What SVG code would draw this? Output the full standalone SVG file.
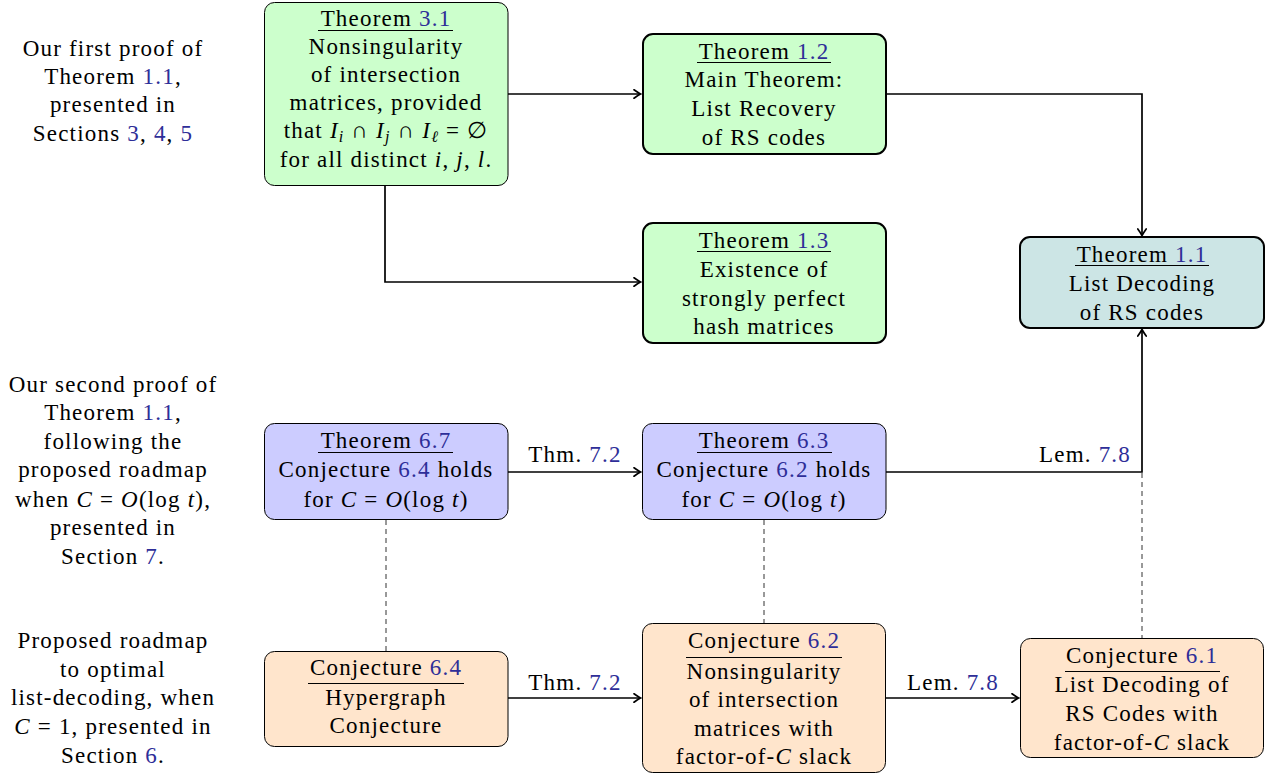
<svg xmlns="http://www.w3.org/2000/svg" width="1268" height="775" viewBox="0 0 1268 775">
<style>
text{font-family:"Liberation Serif","Times New Roman",serif;font-size:23px;letter-spacing:1.2px;fill:#000;text-anchor:middle}
.l{fill:#2e2e98}
.i{font-style:italic}
.box{stroke:#000;stroke-width:1}
.thick{stroke-width:2}
.g{fill:#ccffcc}
.b{fill:#ccccff}
.o{fill:#ffe5cc}
.t{fill:#cce5e5}
.ul{stroke:#000;stroke-width:1}
.c{fill:none;stroke:#000;stroke-width:1.7}
.d{fill:none;stroke:#333;stroke-width:1;stroke-dasharray:5 4}
</style>
<defs>
<marker id="ar" viewBox="-7 -5 9 10" refX="0" refY="0" markerWidth="9" markerHeight="10" markerUnits="userSpaceOnUse" orient="auto">
<path d="M-6,-4.2 Q-1.5,-1 0.5,0 Q-1.5,1 -6,4.2" fill="none" stroke="#000" stroke-width="1.7" stroke-linecap="round"/>
</marker>
</defs>

<g id="labels">
<text x="113" y="56">Our first proof of</text>
<text x="113" y="84">Theorem <tspan class="l">1.1</tspan>,</text>
<text x="113" y="112">presented in</text>
<text x="113" y="141">Sections <tspan class="l">3</tspan>, <tspan class="l">4</tspan>, <tspan class="l">5</tspan></text>

<text x="113" y="392">Our second proof of</text>
<text x="113" y="420">Theorem <tspan class="l">1.1</tspan>,</text>
<text x="113" y="449">following the</text>
<text x="113" y="477">proposed roadmap</text>
<text x="113" y="507">when <tspan class="i">C</tspan> = <tspan class="i">O</tspan>(log <tspan class="i">t</tspan>),</text>
<text x="113" y="535">presented in</text>
<text x="113" y="564">Section <tspan class="l">7</tspan>.</text>

<text x="113" y="648">Proposed roadmap</text>
<text x="113" y="677">to optimal</text>
<text x="113" y="705">list-decoding, when</text>
<text x="113" y="734"><tspan class="i">C</tspan> = 1, presented in</text>
<text x="113" y="763">Section <tspan class="l">6</tspan>.</text>
</g>

<g id="connectors">
<path class="c" d="M508,94 H640" marker-end="url(#ar)"/>
<path class="c" d="M385,186 V282 H640" marker-end="url(#ar)"/>
<path class="c" d="M886,94 H1142 V235" marker-end="url(#ar)"/>
<path class="c" d="M508,472 H640" marker-end="url(#ar)"/>
<path class="c" d="M886,472 H1142 V330" marker-end="url(#ar)"/>
<path class="c" d="M508,698 H640" marker-end="url(#ar)"/>
<path class="c" d="M886,698 H1018" marker-end="url(#ar)"/>
<path class="d" d="M386,520 V651"/>
<path class="d" d="M764,520 V623"/>
<path class="d" d="M1142,473 V638"/>
<text x="575" y="462">Thm. <tspan class="l">7.2</tspan></text>
<text x="1085" y="462">Lem. <tspan class="l">7.8</tspan></text>
<text x="575" y="690">Thm. <tspan class="l">7.2</tspan></text>
<text x="953" y="690">Lem. <tspan class="l">7.8</tspan></text>
</g>

<g id="thm31">
<rect class="box g" x="264.5" y="2.5" width="243.5" height="183" rx="10"/>
<text x="386" y="26">Theorem <tspan class="l">3.1</tspan></text>
<line class="ul" x1="318" y1="30.5" x2="453" y2="30.5"/>
<text x="386" y="54">Nonsingularity</text>
<text x="386" y="82">of intersection</text>
<text x="386" y="110">matrices, provided</text>
<text x="386" y="138">that <tspan class="i">I</tspan><tspan class="i" font-size="16" dy="4">i</tspan><tspan dy="-4"> ∩ </tspan><tspan class="i">I</tspan><tspan class="i" font-size="16" dy="4">j</tspan><tspan dy="-4"> ∩ </tspan><tspan class="i">I</tspan><tspan class="i" font-size="16" dy="4">ℓ</tspan><tspan dy="-4"> = ∅</tspan></text>
<text x="386" y="167">for all distinct <tspan class="i">i</tspan>, <tspan class="i">j</tspan>, <tspan class="i">l</tspan>.</text>
</g>

<g id="thm12">
<rect class="box thick g" x="643" y="34" width="243" height="120" rx="10"/>
<text x="764" y="59">Theorem <tspan class="l">1.2</tspan></text>
<line class="ul" x1="697" y1="62.5" x2="831" y2="62.5"/>
<text x="764" y="87">Main Theorem:</text>
<text x="764" y="116">List Recovery</text>
<text x="764" y="145">of RS codes</text>
</g>

<g id="thm13">
<rect class="box thick g" x="643" y="223" width="243" height="120" rx="10"/>
<text x="764" y="248">Theorem <tspan class="l">1.3</tspan></text>
<line class="ul" x1="697" y1="251.5" x2="831" y2="251.5"/>
<text x="764" y="277">Existence of</text>
<text x="764" y="306">strongly perfect</text>
<text x="764" y="334">hash matrices</text>
</g>

<g id="thm11">
<rect class="box thick t" x="1020" y="237" width="244" height="91" rx="10"/>
<text x="1142" y="262">Theorem <tspan class="l">1.1</tspan></text>
<line class="ul" x1="1075" y1="265.5" x2="1209" y2="265.5"/>
<text x="1142" y="291">List Decoding</text>
<text x="1142" y="320">of RS codes</text>
</g>

<g id="thm67">
<rect class="box b" x="264.5" y="423.5" width="243.5" height="96" rx="10"/>
<text x="386" y="448">Theorem <tspan class="l">6.7</tspan></text>
<line class="ul" x1="318" y1="452.5" x2="453" y2="452.5"/>
<text x="386" y="477">Conjecture <tspan class="l">6.4</tspan> holds</text>
<text x="386" y="507">for <tspan class="i">C</tspan> = <tspan class="i">O</tspan>(log <tspan class="i">t</tspan>)</text>
</g>

<g id="thm63">
<rect class="box b" x="642.5" y="423.5" width="243.5" height="96" rx="10"/>
<text x="764" y="448">Theorem <tspan class="l">6.3</tspan></text>
<line class="ul" x1="697" y1="452.5" x2="832" y2="452.5"/>
<text x="764" y="477">Conjecture <tspan class="l">6.2</tspan> holds</text>
<text x="764" y="507">for <tspan class="i">C</tspan> = <tspan class="i">O</tspan>(log <tspan class="i">t</tspan>)</text>
</g>

<g id="conj64">
<rect class="box o" x="264.5" y="651.5" width="243.5" height="95" rx="10"/>
<text x="386" y="675">Conjecture <tspan class="l">6.4</tspan></text>
<line class="ul" x1="308" y1="683.5" x2="464" y2="683.5"/>
<text x="386" y="705">Hypergraph</text>
<text x="386" y="733">Conjecture</text>
</g>

<g id="conj62">
<rect class="box o" x="642.5" y="623.5" width="243" height="149" rx="10"/>
<text x="764" y="648">Conjecture <tspan class="l">6.2</tspan></text>
<line class="ul" x1="686" y1="657.5" x2="842" y2="657.5"/>
<text x="764" y="679">Nonsingularity</text>
<text x="764" y="707">of intersection</text>
<text x="764" y="736">matrices with</text>
<text x="764" y="764">factor-of-<tspan class="i">C</tspan> slack</text>
</g>

<g id="conj61">
<rect class="box o" x="1020.5" y="638.5" width="243" height="119" rx="10"/>
<text x="1142" y="663">Conjecture <tspan class="l">6.1</tspan></text>
<line class="ul" x1="1065" y1="671.5" x2="1220" y2="671.5"/>
<text x="1142" y="692">List Decoding of</text>
<text x="1142" y="721">RS Codes with</text>
<text x="1142" y="750">factor-of-<tspan class="i">C</tspan> slack</text>
</g>
</svg>
